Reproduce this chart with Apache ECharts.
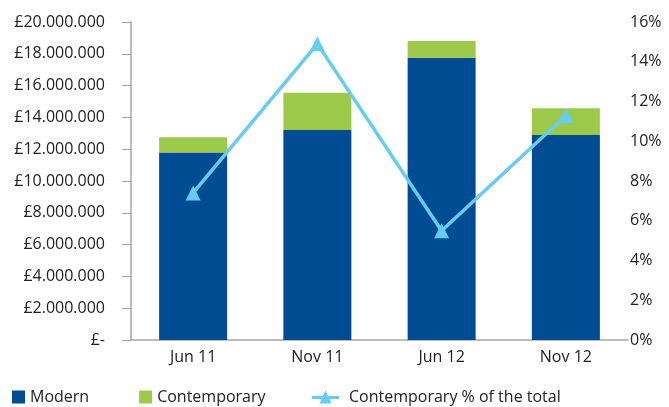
<!DOCTYPE html>
<html>
<head>
<meta charset="utf-8">
<script src="https://cdn.jsdelivr.net/npm/echarts@6/dist/echarts.min.js"></script>
<style>
html,body{margin:0;padding:0;background:#fff;}
#container{width:669px;height:407px;}
</style>
</head>
<body>
<div id="container"></div>
<script>
var categories = ['Jun 11', 'Nov 11', 'Jun 12', 'Nov 12'];
var modern = [11800000, 13200000, 17750000, 12900000];
var contemporary = [950000, 2350000, 1050000, 1670000];
var contempPct = [7.4, 14.9, 5.5, 11.3];

var dom = document.getElementById('container');
var myChart = echarts.init(dom);
var font = 'Open Sans';

function fmtPound(v){
	if(v === 0) return '£-';
	return '£' + String(v).replace(/\B(?=(\d{3})+(?!\d))/g, '.');
}

var lineIcon = 'path://M0,5.5 L27,5.5 L27,8.5 L0,8.5 Z M13.5,0 L19.5,13 L7.5,13 Z';

var option = {
	animation: false,
	textStyle: {fontFamily: font},
	color: ['#004C93', '#9DC94A', '#66CCF2'],
	grid: {left: 131, right: 41, top: 22, bottom: 67},
	legend: [
		{
			left: 12, top: 389, padding: 0,
			itemGap: 50, itemWidth: 13, itemHeight: 13,
			textStyle: {fontSize: 16, color: '#222', fontFamily: font},
			data: [
				{name: 'Modern', icon: 'rect'},
				{name: 'Contemporary', icon: 'rect'}
			]
		},
		{
			left: 312, top: 389, padding: 0,
			itemWidth: 27, itemHeight: 13,
			textStyle: {fontSize: 16, color: '#222', fontFamily: font, padding: [0, 0, 0, 5]},
			data: [{name: 'Contemporary % of the total', icon: lineIcon}]
		}
	],
	xAxis: {
		type: 'category',
		data: categories,
		axisLine: {lineStyle: {color: '#A6A6A6', width: 1.5}},
		axisTick: {show: false},
		axisLabel: {fontSize: 16, color: '#222', margin: 9}
	},
	yAxis: [
		{
			type: 'value',
			min: 0, max: 20000000, interval: 2000000,
			axisLine: {show: true, lineStyle: {color: '#A6A6A6', width: 1.5}},
			axisTick: {show: true, length: 9, lineStyle: {color: '#A6A6A6'}},
			splitLine: {show: false},
			axisLabel: {fontSize: 16, color: '#222', margin: 26, formatter: fmtPound}
		},
		{
			type: 'value',
			min: 0, max: 16, interval: 2,
			axisLine: {show: false},
			axisTick: {show: false},
			splitLine: {show: false},
			axisLabel: {fontSize: 16, color: '#222', margin: 2, formatter: '{value}%'}
		}
	],
	series: [
		{
			name: 'Modern', type: 'bar', stack: 'total', barWidth: 68,
			data: modern
		},
		{
			name: 'Contemporary', type: 'bar', stack: 'total', barWidth: 68,
			data: contemporary
		},
		{
			name: 'Contemporary % of the total', type: 'line', yAxisIndex: 1,
			data: contempPct,
			symbol: 'triangle', symbolSize: 15,
			lineStyle: {width: 3.5, color: '#66CCF2'},
			itemStyle: {color: '#66CCF2'}
		}
	]
};
myChart.setOption(option, true);
</script>
</body>
</html>
